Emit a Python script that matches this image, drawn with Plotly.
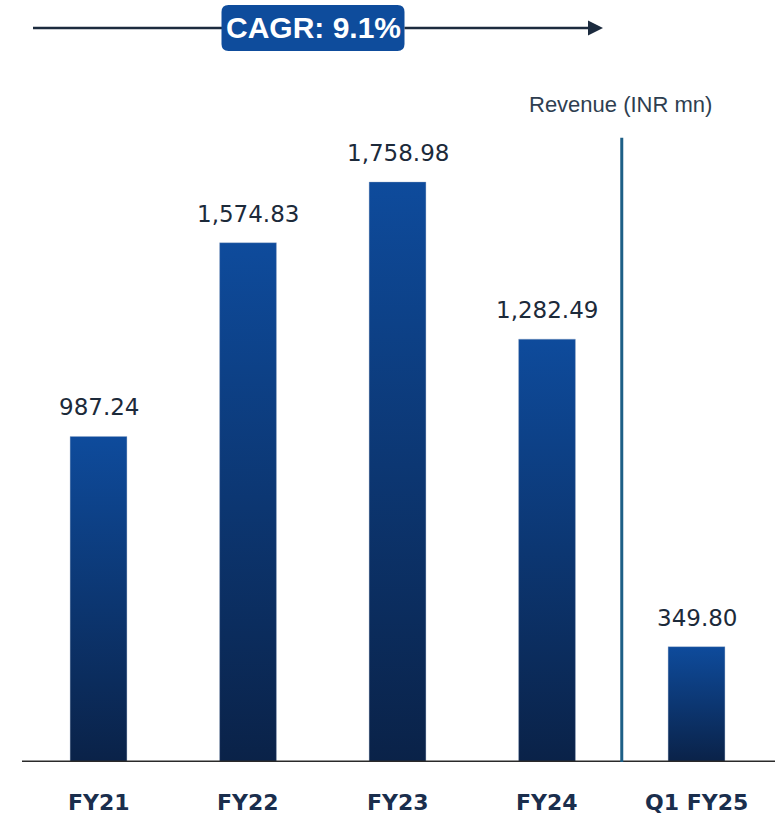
import plotly.graph_objects as go

categories = ["FY21", "FY22", "FY23", "FY24", "Q1 FY25"]
revenue = [987.24, 1574.83, 1758.98, 1282.49, 349.80]
value_labels = ["987.24", "1,574.83", "1,758.98", "1,282.49", "349.80"]
cagr_label = "CAGR: 9.1%"
legend_label = "Revenue (INR mn)"

W, H = 775, 816
PLOT_H = 762
BAR_HALF = 0.19
fig = go.Figure()

for i, v in enumerate(revenue):
    fig.add_trace(go.Scatter(
        x=[i - BAR_HALF, i + BAR_HALF, i + BAR_HALF, i - BAR_HALF, i - BAR_HALF],
        y=[0, 0, v, v, 0],
        mode="lines", line=dict(width=0.6, color="rgba(150,170,200,0.6)"),
        fill="toself",
        fillgradient=dict(type="vertical",
                          colorscale=[[0, "#0a2248"], [1, "#0e4b9c"]]),
        hoverinfo="skip", showlegend=False,
    ))

annotations = []
for i, (v, t) in enumerate(zip(revenue, value_labels)):
    annotations.append(dict(x=i, y=v, xref="x", yref="y", text=t, showarrow=False,
                            yanchor="bottom", yshift=14,
                            font=dict(family="DejaVu Sans", size=23, color="#1c2a3a")))
for i, c in enumerate(categories):
    annotations.append(dict(x=i, y=0, xref="x", yref="paper", text="<b>%s</b>" % c,
                            showarrow=False, yanchor="middle", yshift=-40,
                            font=dict(family="DejaVu Sans", size=22, color="#1a2e4d")))

annotations.append(dict(x=620 / W, y=(PLOT_H - 104) / PLOT_H, xref="paper", yref="paper",
                        text=legend_label, showarrow=False, xanchor="center", yanchor="middle",
                        font=dict(family="Liberation Sans", size=22, color="#2e3e50")))

ARROW_Y = (PLOT_H - 28) / PLOT_H
BOX_CX = 313 / W
# CAGR arrow (right part, from box edge to arrowhead)
annotations.append(dict(x=603 / W, y=ARROW_Y, xref="paper", yref="paper",
                        ax=-200, ay=0, axref="pixel", ayref="pixel", text="",
                        showarrow=True, arrowhead=2, arrowsize=1.2, arrowwidth=2.5,
                        arrowcolor="#1c2b3e"))
annotations.append(dict(x=BOX_CX, y=ARROW_Y, xref="paper", yref="paper",
                        text="<b>%s</b>" % cagr_label, showarrow=False,
                        xanchor="center", yanchor="middle",
                        font=dict(family="Liberation Sans Narrow, Liberation Sans", size=30, color="white")))

bw, bh, r = 183, 46, 7
hw, hh = bw / 2, bh / 2
rounded = (f"M {-hw + r},{-hh} L {hw - r},{-hh} Q {hw},{-hh} {hw},{-hh + r} "
           f"L {hw},{hh - r} Q {hw},{hh} {hw - r},{hh} L {-hw + r},{hh} "
           f"Q {-hw},{hh} {-hw},{hh - r} L {-hw},{-hh + r} Q {-hw},{-hh} {-hw + r},{-hh} Z")

fig.update_layout(
    width=W, height=H,
    margin=dict(l=0, r=0, t=0, b=54),
    paper_bgcolor="white", plot_bgcolor="white",
    xaxis=dict(range=[-0.659, 4.525], visible=False, fixedrange=True),
    yaxis=dict(range=[0, 2311], visible=False, fixedrange=True),
    annotations=annotations,
    shapes=[
        dict(type="line", xref="paper", yref="y", x0=22 / W, x1=1, y0=0, y1=0,
             line=dict(color="#2a2a2a", width=3)),
        dict(type="line", xref="x", yref="y", x0=3.5, x1=3.5, y0=0, y1=1893,
             line=dict(color="#1d5f86", width=3)),
        dict(type="line", xref="paper", yref="paper", x0=33 / W, x1=BOX_CX, y0=ARROW_Y, y1=ARROW_Y,
             line=dict(color="#1c2b3e", width=2.5), layer="above"),
        dict(type="path", xref="paper", yref="paper", xsizemode="pixel", ysizemode="pixel",
             xanchor=BOX_CX, yanchor=ARROW_Y, path=rounded,
             fillcolor="#0e4c9c", line=dict(width=0), layer="above"),
    ],
)

fig.write_html("out.html")
